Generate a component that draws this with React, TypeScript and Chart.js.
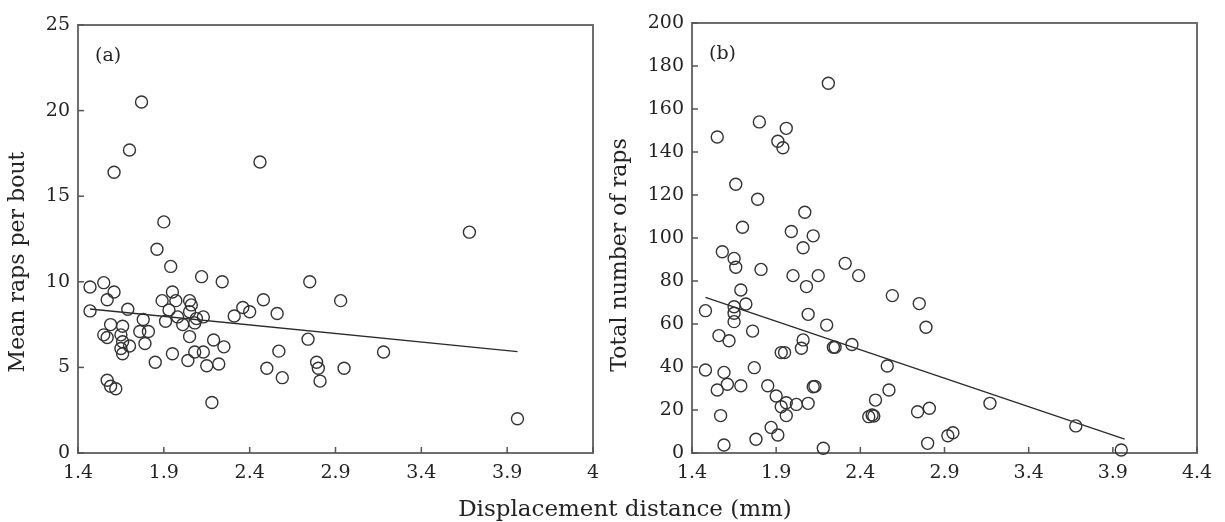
import React, { useEffect, useRef } from 'react';
import { Chart, registerables } from 'chart.js';

Chart.register(...registerables);

// ---------- data ----------
const xTickValues = [1.4, 1.9, 2.4, 2.9, 3.4, 3.9, 4.4];
const xTickLabelsA = ['1.4', '1.9', '2.4', '2.9', '3.4', '3.9', '4'];
const xTickLabelsB = ['1.4', '1.9', '2.4', '2.9', '3.4', '3.9', '4.4'];
const yTicksA = [0, 5, 10, 15, 20, 25];
const yTicksB = [0, 20, 40, 60, 80, 100, 120, 140, 160, 180, 200];

// Panel (a): mean raps per bout vs displacement distance
const distA = [
  1.77, 1.70, 1.61, 2.46, 1.90, 3.68, 3.96, 3.18, 2.93, 2.95,
  1.86, 1.94, 2.12, 2.24, 2.75, 1.47, 1.55, 1.61, 1.57, 1.47,
  1.69, 1.59, 1.55, 1.57, 1.66, 1.65, 1.66, 1.65, 1.66, 1.70,
  1.78, 1.76, 1.81, 1.79, 1.85, 1.95, 1.89, 1.95, 1.97, 1.93,
  1.91, 1.98, 2.01, 2.05, 2.06, 2.05, 2.09, 2.13, 2.08, 2.05,
  2.19, 2.25, 2.08, 2.13, 2.04, 2.15, 2.22, 2.31, 2.36, 2.40,
  2.48, 2.56, 2.74, 2.57, 2.50, 2.59, 2.79, 2.80, 2.81, 1.57,
  1.59, 1.62, 2.18,
];
const rapsA = [
  20.5, 17.7, 16.4, 17.0, 13.5, 12.9, 2.0, 5.9, 8.9, 4.95,
  11.9, 10.9, 10.3, 10.0, 10.0, 9.7, 9.95, 9.4, 8.95, 8.3,
  8.4, 7.5, 6.9, 6.75, 7.4, 6.9, 6.5, 6.1, 5.8, 6.25,
  7.8, 7.1, 7.1, 6.4, 5.3, 5.8, 8.9, 9.4, 8.9, 8.35,
  7.7, 7.95, 7.5, 8.9, 8.65, 8.25, 7.85, 7.95, 7.6, 6.8,
  6.6, 6.2, 5.9, 5.9, 5.4, 5.1, 5.2, 8.0, 8.5, 8.25,
  8.95, 8.15, 6.65, 5.95, 4.95, 4.4, 5.3, 4.95, 4.2, 4.25,
  3.9, 3.75, 2.95,
];
const fitDistA = [1.47, 3.96];
const fitRapsA = [8.41, 5.92];

// Panel (b): total number of raps vs displacement distance
const distB = [
  2.21, 1.80, 1.55, 1.96, 1.91, 1.94, 1.66, 1.79, 2.07, 1.70,
  1.99, 2.12, 2.06, 1.58, 1.65, 1.66, 1.81, 2.00, 2.15, 2.08,
  2.31, 2.39, 1.69, 2.59, 2.75, 1.48, 1.65, 1.65, 1.65, 1.72,
  2.09, 2.20, 1.76, 1.56, 1.62, 2.06, 2.05, 1.93, 1.95, 2.24,
  2.25, 2.35, 2.56, 2.79, 1.48, 1.59, 1.77, 1.61, 1.55, 1.69,
  1.85, 1.90, 1.96, 1.93, 1.96, 2.02, 2.09, 2.12, 2.13, 2.49,
  2.57, 2.45, 2.47, 2.48, 2.74, 2.81, 3.17, 1.57, 1.87, 1.91,
  1.78, 1.59, 2.18, 2.80, 2.92, 2.95, 3.68, 3.95,
];
const totalB = [
  172, 154, 147, 151, 145, 142, 125, 118, 112, 105,
  103, 101, 95.5, 93.6, 90.5, 86.4, 85.4, 82.5, 82.5, 77.4,
  88.2, 82.5, 75.8, 73.2, 69.5, 66.2, 68.0, 65.0, 61.1, 69.3,
  64.5, 59.5, 56.7, 54.6, 52.2, 52.6, 48.7, 46.7, 46.7, 49.2,
  49.2, 50.5, 40.5, 58.5, 38.6, 37.5, 39.7, 32.0, 29.3, 31.3,
  31.3, 26.5, 23.4, 21.5, 17.4, 22.6, 23.1, 30.8, 31.0, 24.6,
  29.3, 16.9, 17.7, 17.2, 19.2, 20.8, 23.1, 17.4, 11.9, 8.4,
  6.4, 3.7, 2.2, 4.5, 8.0, 9.4, 12.6, 1.4,
];
const fitDistB = [1.48, 3.97];
const fitTotalB = [72.4, 6.4];

// ---------- styling ----------
const FONT_FAMILY = '"DejaVu Serif", "Liberation Serif", serif';
const TEXT_COLOR = '#232323';
const AXIS_COLOR = '#6e6e6e';
const MARK_COLOR = '#333333';

const toPoints = (xs: number[], ys: number[]) => xs.map((x, i) => ({ x, y: ys[i] }));

function framePlugin(panel: string, yTitle: string, titleX: number, titleY: number) {
  return {
    id: 'frame_' + panel,
    beforeDatasetsDraw(chart: any) {
      const { ctx, chartArea, scales } = chart;
      const { left, right, top, bottom } = chartArea;
      ctx.save();
      ctx.strokeStyle = AXIS_COLOR;
      ctx.lineWidth = 2;
      ctx.strokeRect(left, top, right - left, bottom - top);
      ctx.lineWidth = 1.5;
      ctx.strokeStyle = '#555';
      scales.x.ticks.forEach((t: any) => {
        const px = scales.x.getPixelForValue(t.value);
        ctx.beginPath();
        ctx.moveTo(px, bottom);
        ctx.lineTo(px, bottom - 6);
        ctx.stroke();
      });
      scales.y.ticks.forEach((t: any) => {
        const py = scales.y.getPixelForValue(t.value);
        ctx.beginPath();
        ctx.moveTo(left, py);
        ctx.lineTo(left + 6, py);
        ctx.stroke();
      });
      ctx.restore();
    },
    afterDraw(chart: any) {
      const { ctx, chartArea } = chart;
      ctx.save();
      ctx.fillStyle = TEXT_COLOR;
      ctx.font = `19px ${FONT_FAMILY}`;
      ctx.textAlign = 'left';
      ctx.textBaseline = 'middle';
      ctx.fillText(panel, chartArea.left + 17, chartArea.top + 31);
      ctx.font = `22px ${FONT_FAMILY}`;
      ctx.translate(titleX, titleY);
      ctx.rotate(-Math.PI / 2);
      ctx.textAlign = 'center';
      ctx.fillText(yTitle, 0, 0);
      ctx.restore();
    },
  };
}

function makeConfig(opts: {
  xs: number[]; ys: number[]; fx: number[]; fy: number[];
  yTicks: number[]; yMax: number; xLabels: string[];
  padTop: number; padRight: number; yWidth: number;
  panel: string; yTitle: string; titleX: number; titleY: number;
}): any {
  const tickFont = { family: FONT_FAMILY, size: 19 };
  return {
    type: 'scatter',
    data: {
      datasets: [
        {
          type: 'scatter',
          data: toPoints(opts.xs, opts.ys),
          pointStyle: 'circle',
          pointRadius: 6,
          pointBorderWidth: 1.4,
          pointBorderColor: MARK_COLOR,
          pointBackgroundColor: 'rgba(0,0,0,0)',
          clip: false,
        },
        {
          type: 'line',
          data: toPoints(opts.fx, opts.fy),
          borderColor: '#2a2a2a',
          borderWidth: 1.3,
          pointRadius: 0,
          fill: false,
          clip: false,
        },
      ],
    },
    options: {
      responsive: false,
      maintainAspectRatio: false,
      animation: false,
      layout: { padding: { top: opts.padTop, right: opts.padRight, left: 0, bottom: 0 } },
      plugins: { legend: { display: false }, tooltip: { enabled: false } },
      scales: {
        x: {
          type: 'linear',
          min: 1.4,
          max: 4.4,
          grid: { display: false, drawTicks: false },
          border: { display: false },
          afterBuildTicks: (s: any) => {
            s.ticks = xTickValues.map((v) => ({ value: v }));
          },
          afterFit: (s: any) => {
            s.height = 69;
          },
          ticks: {
            autoSkip: false,
            maxRotation: 0,
            padding: 9,
            color: TEXT_COLOR,
            font: tickFont,
            callback: (v: number) => {
              const i = xTickValues.findIndex((t) => Math.abs(t - v) < 1e-6);
              return i >= 0 ? opts.xLabels[i] : '';
            },
          },
        },
        y: {
          type: 'linear',
          min: 0,
          max: opts.yMax,
          grid: { display: false, drawTicks: false },
          border: { display: false },
          afterBuildTicks: (s: any) => {
            s.ticks = opts.yTicks.map((v) => ({ value: v }));
          },
          afterFit: (s: any) => {
            s.width = opts.yWidth;
          },
          ticks: {
            autoSkip: false,
            padding: 8,
            color: TEXT_COLOR,
            font: tickFont,
          },
        },
      },
    },
    plugins: [framePlugin(opts.panel, opts.yTitle, opts.titleX, opts.titleY)],
  };
}

export default function App() {
  const refA = useRef<HTMLCanvasElement | null>(null);
  const refB = useRef<HTMLCanvasElement | null>(null);

  useEffect(() => {
    const chartA = new Chart(
      refA.current as HTMLCanvasElement,
      makeConfig({
        xs: distA, ys: rapsA, fx: fitDistA, fy: fitRapsA,
        yTicks: yTicksA, yMax: 25, xLabels: xTickLabelsA,
        padTop: 25, padRight: 22, yWidth: 78,
        panel: '(a)', yTitle: 'Mean raps per bout', titleX: 18, titleY: 262,
      })
    );
    const chartB = new Chart(
      refB.current as HTMLCanvasElement,
      makeConfig({
        xs: distB, ys: totalB, fx: fitDistB, fy: fitTotalB,
        yTicks: yTicksB, yMax: 200, xLabels: xTickLabelsB,
        padTop: 23, padRight: 28, yWidth: 88,
        panel: '(b)', yTitle: 'Total number of raps', titleX: 16, titleY: 255,
      })
    );
    return () => {
      chartA.destroy();
      chartB.destroy();
    };
  }, []);

  return (
    <div
      style={{
        position: 'absolute',
        left: 0,
        top: 0,
        width: 1225,
        height: 522,
        background: '#ffffff',
        overflow: 'hidden',
      }}
    >
      <canvas
        ref={refA}
        width={615}
        height={522}
        style={{ position: 'absolute', left: 0, top: 0, width: 615, height: 522 }}
      />
      <canvas
        ref={refB}
        width={621}
        height={522}
        style={{ position: 'absolute', left: 604, top: 0, width: 621, height: 522 }}
      />
      <div
        style={{
          position: 'absolute',
          left: 325,
          top: 495,
          width: 600,
          textAlign: 'center',
          fontFamily: FONT_FAMILY,
          fontSize: 23,
          lineHeight: '26px',
          color: TEXT_COLOR,
        }}
      >
        Displacement distance (mm)
      </div>
    </div>
  );
}
